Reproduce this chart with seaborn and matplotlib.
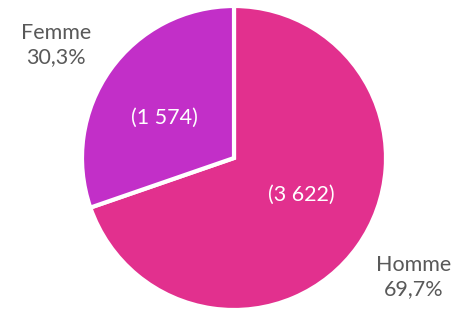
import seaborn as sns
import matplotlib
matplotlib.use('Agg')
import matplotlib.pyplot as plt

# data
categories = ['Homme', 'Femme']
counts = [3622, 1574]
percent_labels = ['69,7%', '30,3%']
count_labels = ['(3 622)', '(1 574)']
colors = ['#E2308E', '#C22FC8']

sns.set_theme(style='white')
plt.rcParams['font.family'] = ['Lato', 'DejaVu Sans']

W, H = 456, 313
fig = plt.figure(figsize=(W / 100, H / 100), dpi=100)
ax = fig.add_axes([0, 0, 1, 1])

# pixel-like coordinates, y from the bottom
cx, cy, r = 234, H - 158, 152
ax.pie(counts, colors=colors, startangle=90, counterclock=False,
       center=(cx, cy), radius=r,
       wedgeprops=dict(edgecolor='white', linewidth=3))
ax.set_xlim(0, W)
ax.set_ylim(0, H)
ax.set_aspect('equal')
ax.axis('off')

# outer labels (name + percent), inner count labels
outer_pos = {'Homme': (414, 277), 'Femme': (56, 45)}
inner_pos = {'Homme': (301, 195), 'Femme': (164, 118)}
for cat, pct, cnt in zip(categories, percent_labels, count_labels):
    x, y = outer_pos[cat]
    ax.text(x, H - y, f'{cat}\n{pct}', ha='center', va='center',
            color='#595959', fontsize=15.5, linespacing=1.3)
    x, y = inner_pos[cat]
    ax.text(x, H - y, cnt, ha='center', va='center',
            color='white', fontsize=15.5)

fig.savefig('out.png', dpi=100)
